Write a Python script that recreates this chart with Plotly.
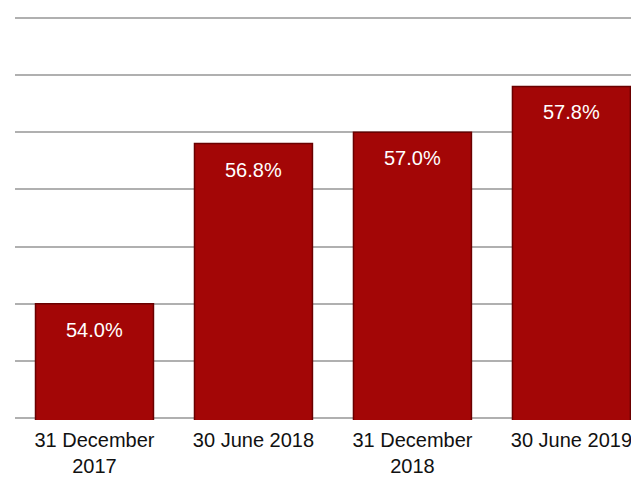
import plotly.graph_objects as go

categories = ["31 December<br>2017", "30 June 2018", "31 December<br>2018", "30 June 2019"]
values = [54.0, 56.8, 57.0, 57.8]
labels = ["54.0%", "56.8%", "57.0%", "57.8%"]

FONT = "Liberation Sans, Arial, sans-serif"

fig = go.Figure()
fig.add_trace(
    go.Bar(
        x=categories,
        y=values,
        marker=dict(color="#a30606", line=dict(color="#6a0000", width=1.5)),
        hoverinfo="skip",
    )
)

for c, v, t in zip(categories, values, labels):
    fig.add_annotation(
        x=c, y=v, text=t, showarrow=False, yshift=-26, yanchor="middle",
        font=dict(color="white", size=20, family=FONT),
    )

# page body adds an 8px offset, so margins are trimmed to compensate
fig.update_layout(
    width=639,
    height=477,
    margin=dict(l=7, r=8, t=8, b=65, autoexpand=False),
    plot_bgcolor="white",
    paper_bgcolor="white",
    bargap=0.258,
    showlegend=False,
    font=dict(family=FONT, size=20, color="#111111"),
)
fig.update_xaxes(
    range=[-0.5, 3.425], showgrid=False, showline=False, ticks="",
    tickfont=dict(size=20), automargin=False, ticklabelstandoff=6,
)
fig.update_yaxes(
    range=[51.97, 59.03], dtick=1, showticklabels=False, gridcolor="#b0b0b0", gridwidth=2,
    zeroline=False, showline=False, automargin=False,
)

fig.write_html("out.html")
